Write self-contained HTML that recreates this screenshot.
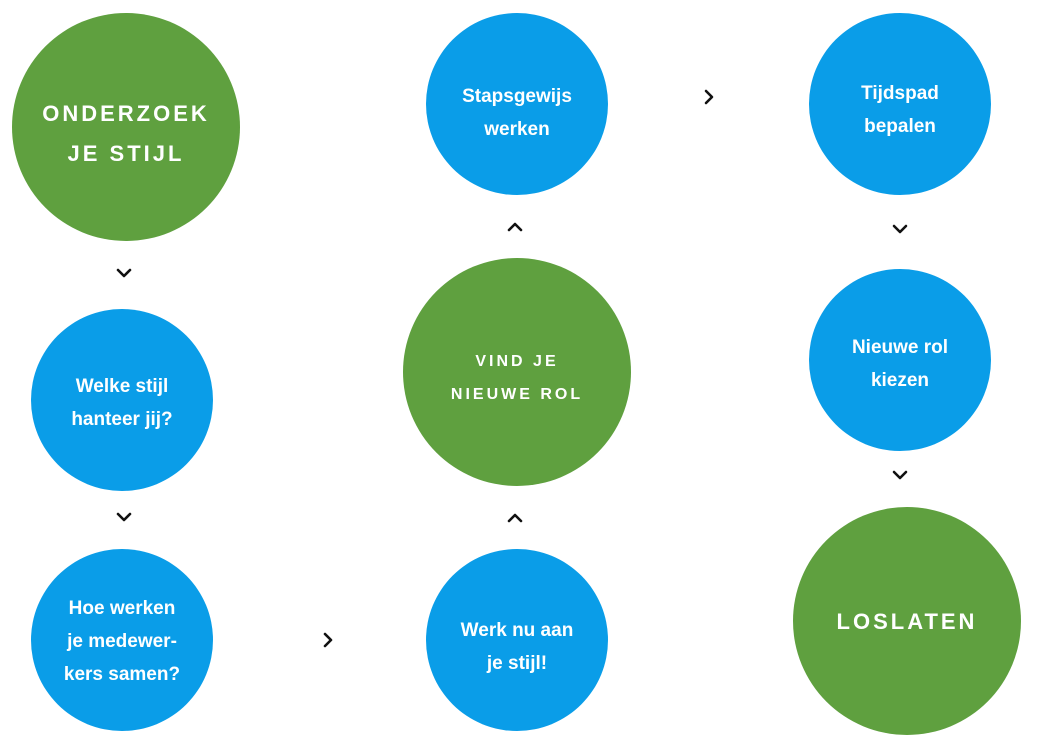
<!DOCTYPE html>
<html><head><meta charset="utf-8"><style>
body{margin:0;width:1040px;height:741px;background:#fff;position:relative;overflow:hidden;font-family:"Liberation Sans",sans-serif}
.c{position:absolute;border-radius:50%;display:flex;align-items:center;justify-content:center;text-align:center;color:#fff;font-weight:bold;box-sizing:border-box}
.g{background:#5fa03f;letter-spacing:3px}
.b{background:#0a9de8;font-size:19px;line-height:33px}
svg{position:absolute;left:0;top:0}
</style></head><body>
<div class="c g" style="left:12px;top:13px;width:228px;height:228px;font-size:22px;line-height:40px;padding-top:14px">ONDERZOEK<br>JE STIJL</div>
<div class="c b" style="left:31px;top:309px;width:182px;height:182px;padding-top:6px">Welke stijl<br>hanteer jij?</div>
<div class="c b" style="left:31px;top:549px;width:182px;height:182px;padding-top:3px">Hoe werken<br>je medewer-<br>kers samen?</div>
<div class="c b" style="left:426px;top:13px;width:182px;height:182px;padding-top:18px">Stapsgewijs<br>werken</div>
<div class="c g" style="left:403px;top:258px;width:228px;height:228px;font-size:16px;line-height:33px;padding-top:12px">VIND JE<br>NIEUWE ROL</div>
<div class="c b" style="left:426px;top:549px;width:182px;height:182px;padding-top:14px">Werk nu aan<br>je stijl!</div>
<div class="c b" style="left:809px;top:13px;width:182px;height:182px;padding-top:12px">Tijdspad<br>bepalen</div>
<div class="c b" style="left:809px;top:269px;width:182px;height:182px;padding-top:8px">Nieuwe rol<br>kiezen</div>
<div class="c g" style="left:793px;top:507px;width:228px;height:228px;font-size:22px;padding-top:2px">LOSLATEN</div>
<svg width="1040" height="741" fill="none" stroke="#111" stroke-width="2.6" stroke-linecap="round" stroke-linejoin="round">
<path d="M118 270l6 6 6-6"/><path d="M118 514l6 6 6-6"/>
<path d="M894 226l6 6 6-6"/><path d="M894 472l6 6 6-6"/>
<path d="M509 230l6-6 6 6"/><path d="M509 521l6-6 6 6"/>
<path d="M706 91l6 6-6 6"/><path d="M325 634l6 6-6 6"/>
</svg>
</body></html>
